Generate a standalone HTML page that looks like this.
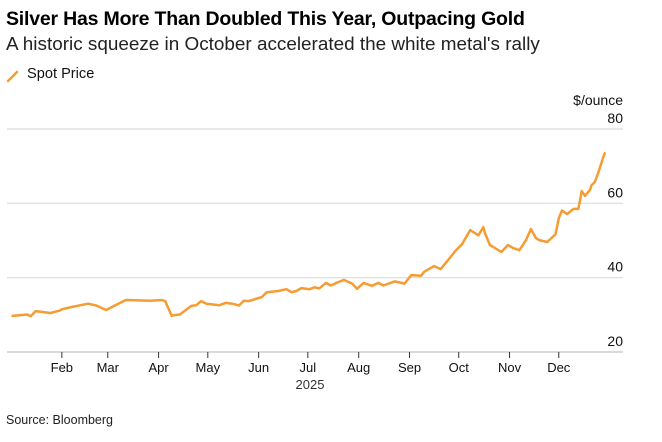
<!DOCTYPE html>
<html><head><meta charset="utf-8"><style>
body{margin:0;background:#fff;font-family:"Liberation Sans",Arial,sans-serif;}
#wrap{position:relative;width:662px;height:442px;overflow:hidden;}
.t{position:absolute;white-space:nowrap;color:#000;}
</style></head><body>
<div id="wrap">
<div class="t" style="left:6px;top:8px;font-size:19.5px;font-weight:bold;letter-spacing:-0.2px">Silver Has More Than Doubled This Year, Outpacing Gold</div>
<div class="t" style="left:6px;top:34px;font-size:18.9px;color:#222">A historic squeeze in October accelerated the white metal's rally</div>
<div style="position:absolute;left:6px;top:66px;">
<svg width="14" height="14" style="position:absolute;left:0;top:3px"><line x1="2" y1="12" x2="11" y2="3" stroke="#f59c33" stroke-width="2.5" stroke-linecap="round"/></svg>
<span class="t" style="left:21px;top:0;font-size:14.6px;color:#111">Spot Price</span></div>
<svg id="chart" width="662" height="442" style="position:absolute;left:0;top:0"></svg>
<div class="t" style="left:6px;top:413px;font-size:12.5px;color:#222">Source: Bloomberg</div>
</div>
<script>
const days=[1,10,12,15,24,30,31,37,47,52,58,65,70,85,92,94,98,99,103,110,113,116,119,127,131,135,139,142,145,153,156,163,168,171,174,177,182,185,188,192,195,198,203,208,211,215,220,224,227,234,240,244,250,252,258,262,267,271,275,280,285,288,289,292,295,299,303,306,310,314,317,320,322,327,332,334,336,339,343,346,348,350,353,354,356,358,359,361,362];
const prices=[29.7,30.1,29.6,31.0,30.5,31.2,31.5,32.1,33.0,32.5,31.3,32.9,34.0,33.8,34.0,33.7,29.7,29.9,30.1,32.4,32.6,33.7,33.0,32.6,33.2,33.0,32.5,33.8,33.7,34.8,36.1,36.4,36.9,36.1,36.4,37.2,36.9,37.4,37.1,38.6,37.9,38.5,39.4,38.4,37.0,38.6,37.8,38.6,37.9,39.0,38.4,40.7,40.5,41.6,43.1,42.3,45.0,47.2,49.0,52.8,51.4,53.6,52.0,48.8,48.0,46.9,48.8,48.0,47.4,50.1,53.1,50.7,50.1,49.6,51.7,56.0,58.1,57.1,58.5,58.5,63.3,62.0,63.6,64.9,65.7,68.1,69.5,72.2,73.5];
const yTicks=[20,40,60,80];
const months=["Feb","Mar","Apr","May","Jun","Jul","Aug","Sep","Oct","Nov","Dec"];
const monthDays=[31,59,90,120,151,181,212,243,273,304,334];
const NS="http://www.w3.org/2000/svg";
const svg=document.getElementById('chart');
const X0=11,DX=1.64,Y20=352,PX=(352-129)/60;
function xs(d){return X0+d*DX;}
function ys(v){return Y20-(v-20)*PX;}
function mk(tag,attrs){const e=document.createElementNS(NS,tag);for(const k in attrs)e.setAttribute(k,attrs[k]);svg.appendChild(e);return e;}
yTicks.forEach(v=>{
  const l=mk('line',{x1:7,x2:623,y1:ys(v),y2:ys(v),stroke:v===20?'#cfcfcf':'#dcdcdc','stroke-width':v===20?1.5:1.2});
  
  
  const t=mk('text',{x:623,y:ys(v)-6,'text-anchor':'end','font-size':14,fill:'#111','font-family':'Liberation Sans, sans-serif'});
  t.textContent=v;
  
  
});
const u=mk('text',{x:623,y:105,'text-anchor':'end','font-size':14,fill:'#111','font-family':'Liberation Sans, sans-serif'});
u.textContent='$/ounce';


months.forEach((m,i)=>{
  const x=xs(monthDays[i]);
  const tk=mk('line',{x1:x,x2:x,y1:352,y2:358,stroke:'#333','stroke-width':1});
  
  
  const t=mk('text',{x:x,y:372,'text-anchor':'middle','font-size':13,fill:'#111','font-family':'Liberation Sans, sans-serif'});
  t.textContent=m;
  
  
});
const yr=mk('text',{x:310,y:389,'text-anchor':'middle','font-size':13,fill:'#333','font-family':'Liberation Sans, sans-serif'});
yr.textContent='2025';


const pts=days.map((d,i)=>xs(d).toFixed(1)+','+ys(prices[i]).toFixed(1)).join(' ');
const pl=mk('polyline',{points:pts,fill:'none',stroke:'#f59c33','stroke-width':2.5,'stroke-linejoin':'round','stroke-linecap':'round'});


</script>
</body></html>
